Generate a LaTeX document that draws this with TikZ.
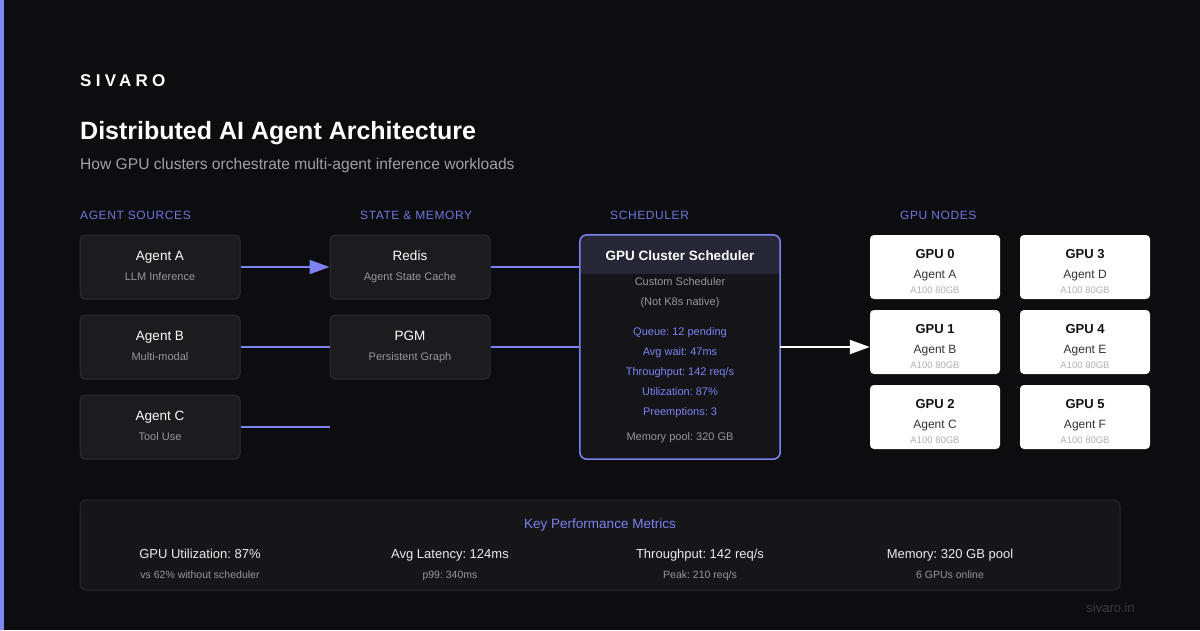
\documentclass[tikz,border=0pt]{standalone}
\usepackage{fontspec}
\setmainfont{Liberation Sans}
\newfontfamily\brandfont[LetterSpace=25]{Liberation Sans}
\newfontfamily\colfont[LetterSpace=5]{Liberation Sans}
\usetikzlibrary{arrows.meta,positioning}
\frenchspacing
\definecolor{SVbg}{RGB}{13,13,15}
\definecolor{SVstripe}{RGB}{128,134,245}
\definecolor{SVpurple}{RGB}{124,130,240}
\definecolor{SVhead}{RGB}{112,118,222}
\definecolor{SVbox}{RGB}{28,28,31}
\definecolor{SVedge}{RGB}{46,46,51}
\definecolor{SVgray}{RGB}{150,150,158}
\definecolor{SVsub}{RGB}{160,160,168}
\definecolor{SVsched}{RGB}{21,21,25}
\definecolor{SVschedtop}{RGB}{38,38,54}
\definecolor{SVmetric}{RGB}{22,22,25}
\definecolor{SVmedge}{RGB}{42,42,46}
\definecolor{SVspec}{RGB}{176,176,184}
\definecolor{SVfoot}{RGB}{62,62,66}
\tikzset{
  txt/.style={inner sep=0pt,anchor=base},
  srcbox/.style={rounded corners=5pt,draw=SVedge,line width=1pt,fill=SVbox,
                 minimum width=160pt,minimum height=64pt,inner sep=0pt},
  srctitle/.style={txt,text=white,font=\fontsize{13.5}{16}\selectfont},
  srcsub/.style={txt,text=SVgray,font=\fontsize{11}{13}\selectfont},
  colhead/.style={txt,anchor=base west,text=SVhead,font=\colfont\fontsize{12}{14}\selectfont},
  schedbox/.style={rounded corners=7pt,fill=SVsched,minimum width=200pt,
                 minimum height=224pt,inner sep=0pt},
  schedstat/.style={txt,text=SVpurple,font=\fontsize{11}{13}\selectfont},
  gpubox/.style={rounded corners=4pt,fill=white,minimum width=130pt,
                 minimum height=64pt,inner sep=0pt},
  gputitle/.style={txt,text=black!93,font=\bfseries\fontsize{13}{15}\selectfont},
  gpuagent/.style={txt,text=black!80,font=\fontsize{12}{14}\selectfont},
  gpuspec/.style={txt,text=SVspec,font=\fontsize{9.5}{11}\selectfont},
  metricbox/.style={rounded corners=6pt,draw=SVmedge,line width=1pt,fill=SVmetric,
                 minimum width=1040pt,minimum height=90pt,inner sep=0pt},
  metricval/.style={txt,text=white!92!black,font=\fontsize{13}{15}\selectfont},
  metricsub/.style={txt,text=SVgray,font=\fontsize{10.5}{12}\selectfont},
  fl/.style={line width=2pt,draw=SVpurple},
  fla/.style={fl,-{Triangle[length=20pt,width=14pt]}},
  flw/.style={line width=2pt,draw=white,-{Triangle[length=20pt,width=14pt]}}
}
\begin{document}
\begin{tikzpicture}[x=1pt,y=-1pt]
  \fill[SVbg] (0,0) rectangle (1200,630);
  \useasboundingbox (0,0) rectangle (1200,630);
  \fill[SVstripe] (0,0) rectangle (4,630);

  % header
  \node[txt,anchor=base west,text=white,font=\brandfont\bfseries\fontsize{17}{20}\selectfont] (brand) at (80,86) {SIVARO};
  \node[txt,anchor=base west,text=white,font=\bfseries\fontsize{25}{30}\selectfont] (title) at (80,139) {Distributed AI Agent Architecture};
  \node[txt,anchor=base west,text=SVsub,font=\fontsize{15.6}{18}\selectfont] (subtitle) at (80,169.5) {How GPU clusters orchestrate multi-agent inference workloads};

  \node[colhead] (hsrc) at (80,219.5) {AGENT SOURCES};
  \node[colhead] (hmem) at (360,219.5) {STATE \& MEMORY};
  \node[colhead] (hsch) at (610,219.5) {SCHEDULER};
  \node[colhead] (hgpu) at (900,219.5) {GPU NODES};

  % agent sources
  \node[srcbox] (agA) at (160,267) {};
  \node[srctitle] (agAt) at (160,260) {Agent A};
  \node[srcsub] (agAs) at (160,280) {LLM Inference};
  \node[srcbox] (agB) at (160,347) {};
  \node[srctitle] (agBt) at (160,340) {Agent B};
  \node[srcsub] (agBs) at (160,360) {Multi-modal};
  \node[srcbox] (agC) at (160,427) {};
  \node[srctitle] (agCt) at (160,420) {Agent C};
  \node[srcsub] (agCs) at (160,440) {Tool Use};

  % state and memory
  \node[srcbox] (redis) at (410,267) {};
  \node[srctitle] (redist) at (410,260) {Redis};
  \node[srcsub] (rediss) at (410,280) {Agent State Cache};
  \node[srcbox] (pgm) at (410,347) {};
  \node[srctitle] (pgmt) at (410,340) {PGM};
  \node[srcsub] (pgms) at (410,360) {Persistent Graph};
  \coordinate (cend) at (330,427);

  % scheduler
  \node[schedbox] (sched) at (680,347) {};
  \begin{scope}
    \clip[rounded corners=7pt] (sched.north west) rectangle (sched.south east);
    \fill[SVschedtop] (sched.north west) rectangle ([yshift=-39pt]sched.north east);
  \end{scope}
  \draw[SVpurple,line width=1.5pt,rounded corners=7pt] (sched.north west) rectangle (sched.south east);
  \node[txt,text=white,font=\bfseries\fontsize{13.5}{16}\selectfont] (scht) at (680,260) {GPU Cluster Scheduler};
  \node[srcsub] (sch1) at (680,285) {Custom Scheduler};
  \node[srcsub] (sch2) at (680,305) {(Not K8s native)};
  \node[schedstat] (st1) at (680,335) {Queue: 12 pending};
  \node[schedstat] (st2) at (680,355) {Avg wait: 47ms};
  \node[schedstat] (st3) at (680,375) {Throughput: 142 req/s};
  \node[schedstat] (st4) at (680,395) {Utilization: 87\%};
  \node[schedstat] (st5) at (680,415) {Preemptions: 3};
  \node[srcsub] (schm) at (680,440) {Memory pool: 320 GB};

  % gpu nodes
  \foreach \n/\cx/\cy/\ag in {0/935/267/A,1/935/342/B,2/935/417/C,3/1085/267/D,4/1085/342/E,5/1085/417/F} {
    \node[gpubox] (gpu\n) at (\cx,\cy) {};
    \node[gputitle] (gput\n) at (\cx,\cy-9) {GPU \n};
    \node[gpuagent] (gpua\n) at (\cx,\cy+11) {Agent \ag};
    \node[gpuspec] (gpus\n) at (\cx,\cy+26) {A100 80GB};
  }

  % connectors
  \draw[fla] (agA) -- (redis);
  \draw[fl] (agB) -- (pgm);
  \draw[fl] (agC) -- (cend);
  \draw[fl] (redis.east) -- (redis.east -| sched.west);
  \draw[fl] (pgm.east) -- (pgm.east -| sched.west);
  \draw[flw] (sched.east) -- (sched.east -| gpu1.west);

  % metrics
  \node[metricbox] (metrics) at (600,545) {};
  \node[txt,text=SVpurple,font=\fontsize{13.5}{16}\selectfont] (mtitle) at (600,528) {Key Performance Metrics};
  \node[metricval] (m1) at (200,558) {GPU Utilization: 87\%};
  \node[metricsub] (m1s) at (200,578) {vs 62\% without scheduler};
  \node[metricval] (m2) at (450,558) {Avg Latency: 124ms};
  \node[metricsub] (m2s) at (450,578) {p99: 340ms};
  \node[metricval] (m3) at (700,558) {Throughput: 142 req/s};
  \node[metricsub] (m3s) at (700,578) {Peak: 210 req/s};
  \node[metricval] (m4) at (950,558) {Memory: 320 GB pool};
  \node[metricsub] (m4s) at (950,578) {6 GPUs online};

  \node[txt,anchor=base east,text=SVfoot,font=\fontsize{13}{15}\selectfont] (foot) at (1135,612) {sivaro.in};
\end{tikzpicture}
\end{document}
